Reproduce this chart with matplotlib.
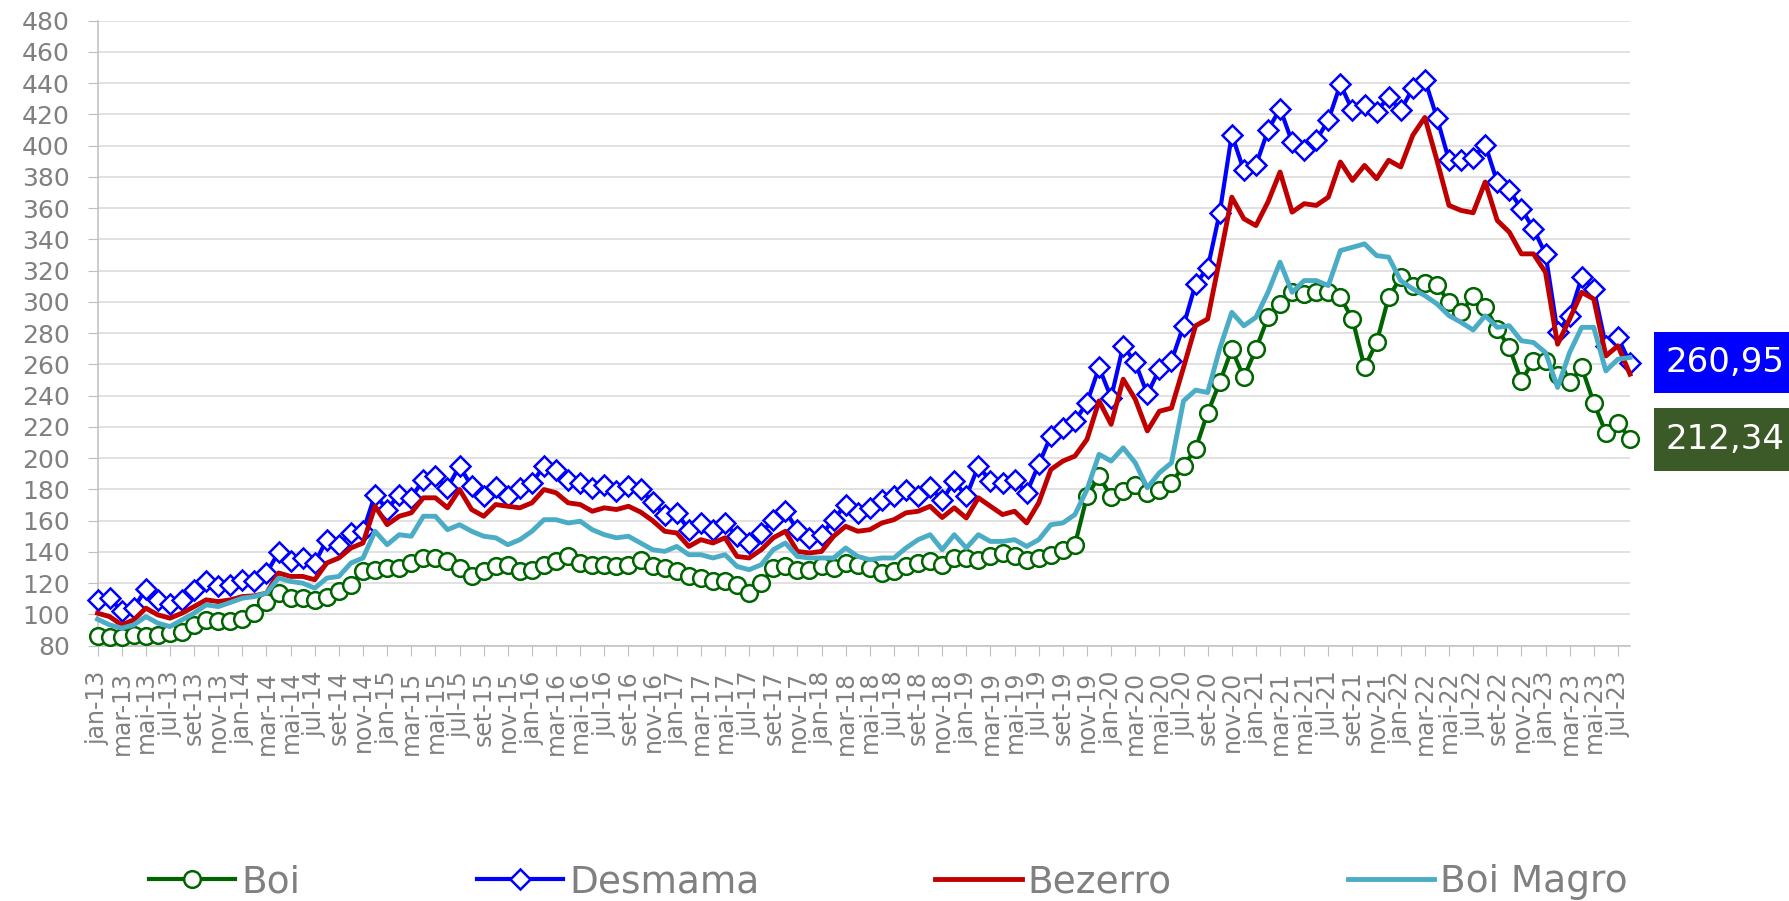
import matplotlib
matplotlib.use("Agg")
import matplotlib.pyplot as plt
from matplotlib.patches import Rectangle

# Dados mensais: jan-13 até ago-23
meses = ['jan', 'fev', 'mar', 'abr', 'mai', 'jun', 'jul', 'ago', 'set', 'out', 'nov', 'dez']
anos = list(range(13, 24))
categorias = [f"{m}-{a}" for a in anos for m in meses][:128]

boi = [
    86.2, 85.8, 85.8, 86.9, 86.2, 86.9, 87.9, 89.0, 93.3, 96.5, 96.0, 96.0,
    96.9, 100.8, 108.2, 113.6, 110.4, 110.4, 109.3, 111.4, 114.7, 118.9, 128.0, 128.6,
    129.7, 129.7, 132.9, 136.1, 136.1, 134.0, 129.7, 124.3, 127.5, 130.7, 131.8, 127.5,
    128.6, 131.8, 134.0, 137.1, 132.9, 131.8, 131.8, 130.7, 131.8, 134.5, 130.7, 129.7,
    127.5, 124.3, 123.2, 121.1, 121.1, 119.0, 113.6, 120.0, 129.7, 130.7, 128.6, 128.6,
    130.7, 129.7, 132.9, 131.8, 129.7, 126.5, 127.5, 130.7, 132.9, 134.0, 131.8, 136.1,
    136.1, 135.0, 137.1, 139.3, 137.1, 135.0, 136.1, 138.2, 141.4, 144.6, 175.6, 188.4,
    175.4, 178.8, 183.1, 177.8, 179.9, 184.2, 194.9, 206.0, 229.0, 248.4, 269.7, 251.6,
    269.7, 290.1, 298.6, 306.1, 305.0, 306.1, 306.1, 302.9, 289.0, 258.0, 274.0, 302.9,
    315.7, 310.4, 312.0, 311.0, 299.7, 293.3, 303.5, 296.5, 282.6, 270.8, 249.4, 262.2,
    262.2, 253.0, 248.4, 258.0, 235.5, 216.3, 222.7, 212.34,
]

desmama = [
    108.9, 110.4, 102.3, 104.0, 116.2, 109.3, 106.6, 109.3, 115.3, 121.1, 117.9, 118.9,
    122.2, 121.1, 126.4, 139.7, 133.9, 136.1, 132.9, 147.8, 144.6, 152.1, 153.1, 176.7,
    167.1, 176.7, 174.6, 186.3, 188.4, 181.0, 194.9, 182.0, 175.6, 181.6, 175.6, 181.0,
    184.2, 194.9, 192.7, 186.3, 184.2, 181.0, 183.1, 178.8, 182.0, 180.0, 172.0, 163.9,
    165.0, 154.2, 158.5, 154.2, 158.5, 150.0, 145.7, 152.1, 160.6, 166.0, 154.2, 149.0,
    151.0, 160.6, 170.3, 165.0, 168.2, 173.5, 175.6, 179.9, 175.6, 181.5, 173.0, 185.2,
    175.6, 194.9, 185.2, 184.2, 186.3, 177.8, 196.0, 214.1, 219.5, 223.7, 235.5, 258.0,
    238.7, 271.9, 261.2, 240.9, 256.9, 262.2, 284.7, 311.4, 321.6, 357.0, 407.0, 384.1,
    387.4, 409.8, 423.7, 402.3, 397.0, 403.4, 416.2, 439.1, 422.6, 425.8, 421.6, 431.2,
    422.6, 436.6, 442.2, 417.8, 390.6, 390.5, 392.2, 400.6, 376.7, 371.3, 359.6, 346.7,
    330.7, 280.4, 291.1, 315.7, 308.2, 271.9, 277.2, 260.95,
]

bezerro = [
    100.8, 98.6, 93.3, 96.5, 104.0, 99.7, 97.6, 100.8, 105.0, 109.3, 108.2, 109.3,
    111.4, 111.9, 113.6, 126.5, 124.3, 124.3, 122.2, 132.9, 136.1, 142.5, 145.7, 169.2,
    157.4, 162.8, 165.0, 174.6, 174.6, 168.2, 179.9, 167.1, 162.8, 170.3, 169.2, 168.2,
    171.4, 179.9, 177.8, 171.4, 170.3, 166.0, 168.2, 167.1, 169.2, 165.5, 160.0, 153.2,
    152.1, 143.5, 147.8, 145.7, 149.0, 137.1, 136.1, 141.4, 149.0, 153.2, 140.3, 139.3,
    140.3, 150.0, 156.4, 153.2, 154.2, 158.5, 160.6, 165.0, 166.0, 169.2, 162.0, 168.2,
    161.7, 174.6, 169.2, 163.9, 166.0, 158.5, 171.4, 192.7, 198.1, 201.3, 212.0, 236.6,
    221.6, 250.5, 237.7, 217.4, 230.0, 232.0, 258.0, 284.7, 289.0, 327.5, 367.0, 353.2,
    348.8, 363.9, 383.1, 357.4, 362.8, 361.7, 367.0, 389.5, 377.7, 387.3, 378.8, 390.6,
    386.3, 406.6, 418.0, 390.6, 361.7, 358.5, 357.0, 376.7, 352.1, 344.6, 330.7, 330.7,
    318.9, 272.9, 289.0, 306.1, 301.8, 265.4, 271.9, 253.7,
]

boi_magro = [
    96.9, 93.3, 91.2, 93.3, 98.6, 94.4, 92.2, 96.5, 100.8, 106.1, 105.0, 107.6,
    110.4, 111.4, 113.6, 123.2, 121.1, 120.0, 116.8, 123.2, 124.3, 132.9, 136.1, 153.2,
    144.6, 151.0, 150.0, 162.8, 162.8, 154.2, 157.4, 153.2, 150.0, 149.0, 144.6, 147.8,
    153.2, 160.6, 160.6, 158.5, 159.6, 154.2, 151.0, 149.0, 150.0, 145.7, 141.4, 140.3,
    143.5, 138.2, 138.2, 136.1, 138.2, 130.7, 128.6, 131.8, 141.4, 145.7, 137.1, 136.1,
    136.1, 136.1, 142.5, 137.1, 135.0, 136.1, 136.1, 142.5, 147.8, 151.0, 141.4, 151.0,
    142.5, 151.0, 146.7, 146.7, 147.8, 143.5, 147.8, 157.4, 158.5, 163.9, 179.9, 202.4,
    198.1, 206.6, 197.0, 181.0, 190.6, 197.0, 236.6, 243.5, 242.0, 270.0, 293.3, 284.7,
    290.1, 306.1, 325.4, 306.1, 313.6, 313.6, 310.4, 332.8, 334.9, 337.1, 329.6, 328.6,
    313.6, 308.3, 304.0, 298.7, 291.2, 286.9, 282.0, 291.1, 283.7, 284.7, 275.1, 274.0,
    267.6, 245.2, 267.6, 283.7, 283.7, 255.8, 263.3, 264.4,
]

cinza = '#808080'
x = list(range(len(categorias)))

fig = plt.figure(figsize=(17.9, 9.01), dpi=100)
ax = fig.add_axes([0.0545, 0.2834, 0.8561, 0.6938])

# Ordem das séries igual ao Excel (a última fica por cima)
ax.plot(x, boi, color='#006400', lw=3, marker='o', ms=12, mfc='white',
        mec='#006400', mew=1.8, label='Boi', clip_on=False, zorder=3)
ax.plot(x, desmama, color='#0000FF', lw=3, marker='D', ms=10, mfc='white',
        mec='#0000FF', mew=1.8, label='Desmama', clip_on=False, zorder=4)
ax.plot(x, bezerro, color='#C00000', lw=3.5, label='Bezerro', clip_on=False, zorder=5)
ax.plot(x, boi_magro, color='#4BACC6', lw=3.5, label='Boi Magro', clip_on=False, zorder=6)

ax.set_xlim(0, len(categorias) - 1)
ax.set_ylim(80, 480)
ax.set_yticks(range(80, 481, 20))
ax.set_xticks(x[::2])
ax.set_xticklabels(categorias[::2], rotation=90)

ax.yaxis.grid(True, color='#D9D9D9', lw=1.1)
ax.set_axisbelow(True)
for s in ['top', 'right']:
    ax.spines[s].set_visible(False)
for s in ['left', 'bottom']:
    ax.spines[s].set_color('#BFBFBF')
    ax.spines[s].set_linewidth(1.1)

ax.tick_params(axis='y', direction='out', length=7, color='#BFBFBF',
               labelcolor=cinza, labelsize=18, pad=13)
ax.tick_params(axis='x', direction='out', length=7, color='#BFBFBF',
               labelcolor=cinza, labelsize=17, pad=11)

# Legenda na parte de baixo
fig.legend(loc='center', bbox_to_anchor=(0.4964, 0.021), ncol=4, frameon=False,
           fontsize=27, handlelength=2.3, handletextpad=0.16, columnspacing=4.7,
           labelcolor=cinza)

# Rótulos com o último valor
W, H = 1790, 901
caixas = [(desmama[-1], '#0000FF', 331.7, 392.7), (boi[-1], '#3B5A27', 407.7, 470.7)]
for valor, cor, y_top, y_bot in caixas:
    fig.add_artist(Rectangle((1654 / W, 1 - y_bot / H), 0.1, (y_bot - y_top) / H,
                             transform=fig.transFigure, color=cor, lw=0))
    fig.text(1666 / W, 1 - (y_top + y_bot) / 2 / H, f"{valor:.2f}".replace('.', ','),
             color='white', fontsize=24.5, ha='left', va='center')

plt.savefig('out.png', dpi=100)
